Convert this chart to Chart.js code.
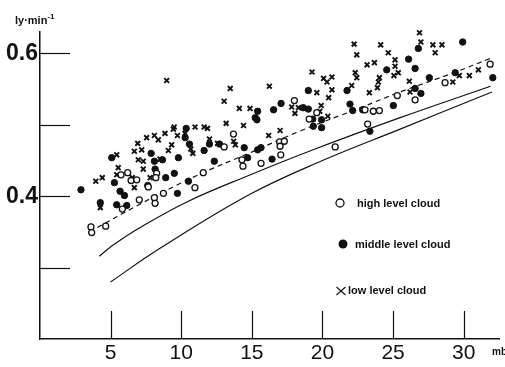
<!DOCTYPE html>
<html><head><meta charset="utf-8">
<script src="https://cdn.jsdelivr.net/npm/chart.js@4.4.0/dist/chart.umd.min.js"></script>
<style>
html,body{margin:0;padding:0;background:#fff;}
#wrap{position:relative;width:505px;height:367px;overflow:hidden;background:#fff;}
canvas{position:absolute;left:0;top:0;}
.t{position:absolute;font-family:"Liberation Sans",Arial,sans-serif;font-weight:bold;color:#111;white-space:nowrap;line-height:1;}
</style></head><body>
<div id="wrap"><canvas id="c" width="505" height="367"></canvas>
<div class="t" style="left:15px;top:15px;font-size:11px;">ly·min<span style="font-size:8px;position:relative;top:-5px;">-1</span></div>
<div class="t" style="left:492px;top:347px;font-size:10px;">mb</div>
<div class="t" style="left:357px;top:198px;font-size:11px;">high level cloud</div>
<div class="t" style="left:355px;top:239px;font-size:11px;">middle level cloud</div>
<div class="t" style="left:348px;top:285px;font-size:11px;">low level cloud</div>
</div>
<script>
const xTicks = [5, 10, 15, 20, 25, 30];
const yTicks = [0.3, 0.4, 0.5, 0.6];
const yLabeled = [0.4, 0.6];

const highCloud = [[3.61,0.357],[3.66,0.349],[4.65,0.358],[5.74,0.430],[6.21,0.433],[6.45,0.422],[6.85,0.423],[5.83,0.382],[7.03,0.395],[7.67,0.413],[8.1,0.398],[8.15,0.390],[8.74,0.404],[8.26,0.432],[8.2,0.426],
 [10.97,0.412],[11.56,0.433],[13.04,0.469],[13.7,0.487],[14.3,0.451],[14.37,0.442],[15.65,0.446],[16.97,0.476],[17.3,0.477],[17.0,0.470],[17.05,0.458],[18.01,0.534],
 [19.06,0.508],[19.6,0.517],[20.9,0.469],[23.01,0.521],[23.6,0.519],[24.03,0.520],[23.2,0.501],[25.3,0.541],[26.56,0.535],[28.68,0.559],[31.87,0.585]];

const middleCloud = [[2.9,0.409],[4.27,0.391],[5.08,0.454],[5.27,0.419],[5.67,0.407],[5.98,0.401],[5.43,0.388],[6.14,0.387],[7.63,0.415],[7.87,0.460],[8.1,0.449],[8.67,0.451],[8.15,0.438],[8.9,0.426],[9.51,0.432],
 [9.73,0.404],[9.8,0.454],[10.51,0.421],[10.35,0.495],[10.28,0.482],[10.58,0.473],[11.62,0.464],[12.0,0.473],[12.71,0.473],[12.34,0.449],[14.46,0.468],[14.7,0.454],[15.41,0.465],[15.65,0.468],[16.43,0.452],[15.41,0.519],[16.54,0.521],[15.24,0.510],[15.36,0.507],[17.07,0.530],
 [18.64,0.524],[19.0,0.522],[19.0,0.548],[19.31,0.508],[19.94,0.507],[19.35,0.498],[19.94,0.496],[21.74,0.548],[21.95,0.529],[22.14,0.520],[22.85,0.521],[23.36,0.491],[24.55,0.577],[25.02,0.527],
 [26.1,0.592],[26.79,0.607],[29.93,0.616],[26.56,0.579],[27.57,0.566],[29.4,0.573],[26.56,0.551],[26.97,0.544],[32.06,0.566]];

const lowCloud = [[3.95,0.421],[4.41,0.426],[5.43,0.458],[5.54,0.440],[5.43,0.430],[6.68,0.412],[6.92,0.474],[6.68,0.463],[7.2,0.465],[6.96,0.451],[7.31,0.449],[7.31,0.438],[7.55,0.482],[8.1,0.485],[8.38,0.479],[8.85,0.488],[9.09,0.464],[9.32,0.472],[9.44,0.494],[8.5,0.452],[7.8,0.426],[6.54,0.426],[4.27,0.384],[8.97,0.562],
 [13.47,0.551],[16.24,0.554],[13.04,0.533],[14.11,0.523],[14.87,0.523],[17.82,0.525],[18.05,0.516],[13.18,0.502],[14.41,0.499],[9.5,0.497],[9.73,0.485],[10.27,0.488],[10.98,0.497],[11.62,0.497],[11.86,0.495],[12.0,0.480],[12.57,0.474],[13.71,0.477],[13.83,0.472],[16.19,0.485],[17.0,0.492],[10.68,0.466],[10.82,0.460],
 [22.24,0.613],[24.12,0.612],[22.43,0.598],[24.66,0.601],[25.14,0.591],[23.16,0.584],[23.68,0.587],[25.14,0.582],[19.26,0.574],[22.32,0.573],[22.43,0.566],[25.06,0.569],[25.37,0.573],[20.08,0.565],[20.32,0.560],[20.67,0.567],[24.03,0.566],[23.96,0.560],[22.07,0.555],[23.89,0.552],[20.67,0.549],[19.6,0.545],[23.32,0.545],[20.44,0.538],[19.91,0.527],[19.81,0.519],[20.38,0.512],[18.3,0.524],
 [26.87,0.629],[26.97,0.616],[27.82,0.612],[28.46,0.612],[27.98,0.601],[26.15,0.561],[26.2,0.546],[29.69,0.569],[30.4,0.569],[31.04,0.577],[29.23,0.560]];

const dashedCurve = [[3.5,0.350],[7.0,0.388],[11.0,0.428],[15.0,0.462],[18.5,0.492],[22.7,0.524],[25.5,0.546],[29.3,0.573],[32.0,0.594]];
const upperCurve = [[4.2,0.316],[5.0,0.329],[7.0,0.355],[10.4,0.392],[14.9,0.430],[19.2,0.464],[25.5,0.510],[31.9,0.554]];
const lowerCurve = [[5.0,0.280],[8.5,0.327],[14.9,0.403],[20.0,0.450],[25.5,0.494],[32.0,0.546]];

const toXY = a => a.map(p => ({x: p[0], y: p[1]}));
const INK = '#111';

const decor = {
  id: 'decor',
  afterDraw(chart) {
    const {ctx, chartArea: a, scales: {x, y}} = chart;
    ctx.save();
    ctx.strokeStyle = INK; ctx.fillStyle = INK; ctx.lineWidth = 1.2;
    yTicks.forEach(v => { const p = Math.round(y.getPixelForValue(v)) + 0.5; ctx.beginPath(); ctx.moveTo(a.left, p); ctx.lineTo(a.left + 30, p); ctx.stroke(); });
    xTicks.forEach(v => { const p = Math.round(x.getPixelForValue(v)) + 0.5; ctx.beginPath(); ctx.moveTo(p, a.bottom); ctx.lineTo(p, a.bottom - 28); ctx.stroke(); });
    // legend markers
    ctx.lineWidth = 1.3;
    ctx.beginPath(); ctx.arc(340, 203, 4, 0, Math.PI * 2); ctx.stroke();
    ctx.beginPath(); ctx.arc(343, 244, 4.5, 0, Math.PI * 2); ctx.fill();
    ctx.lineWidth = 1.1;
    ctx.beginPath(); ctx.moveTo(336.5, 287); ctx.lineTo(345.5, 295); ctx.moveTo(345.5, 287); ctx.lineTo(336.5, 295); ctx.stroke();
    ctx.restore();
  }
};

const lineDs = (data, dash) => ({
  type: 'line', data: toXY(data), showLine: true, borderColor: INK, borderWidth: 1.2,
  borderDash: dash, pointRadius: 0, fill: false, tension: 0.4, order: 5
});

new Chart(document.getElementById('c'), {
  type: 'scatter',
  data: {
    datasets: [
      lineDs(dashedCurve, [5, 4]),
      lineDs(upperCurve, []),
      lineDs(lowerCurve, []),
      {label: 'high level cloud', data: toXY(highCloud), clip: 8, pointStyle: 'circle', pointRadius: 3, borderWidth: 1.3, borderColor: INK, backgroundColor: '#fff'},
      {label: 'middle level cloud', data: toXY(middleCloud), clip: 8, pointStyle: 'circle', pointRadius: 3.2, borderWidth: 1, borderColor: INK, backgroundColor: INK},
      {label: 'low level cloud', data: toXY(lowCloud), clip: 8, pointStyle: 'crossRot', pointRadius: 3.4, borderWidth: 1.9, borderColor: INK, backgroundColor: INK}
    ]
  },
  options: {
    responsive: false, animation: false,
    layout: {padding: {top: 32, right: 6, left: 0, bottom: 0}},
    plugins: {legend: {display: false}, tooltip: {enabled: false}},
    scales: {
      x: {
        type: 'linear', min: 0, max: 32.5,
        afterBuildTicks: s => { s.ticks = xTicks.map(v => ({value: v})); },
        afterFit: s => { s.height = 28; },
        grid: {display: false, drawTicks: false},
        border: {display: true, color: INK, width: 1.5},
        ticks: {color: INK, padding: 2, font: {family: '"Liberation Sans", Arial, sans-serif', size: 21}, maxRotation: 0, autoSkip: false}
      },
      y: {
        type: 'linear', min: 0.2, max: 0.63,
        afterBuildTicks: s => { s.ticks = yTicks.map(v => ({value: v})); },
        afterFit: s => { s.width = 40; },
        grid: {display: false, drawTicks: false},
        border: {display: true, color: INK, width: 1.5},
        ticks: {color: INK, padding: 2, autoSkip: false,
          font: {family: '"Liberation Sans", Arial, sans-serif', size: 23, weight: 'bold'},
          callback: v => yLabeled.includes(v) ? v.toFixed(1) : ''}
      }
    }
  },
  plugins: [decor]
});
</script>
</body></html>
